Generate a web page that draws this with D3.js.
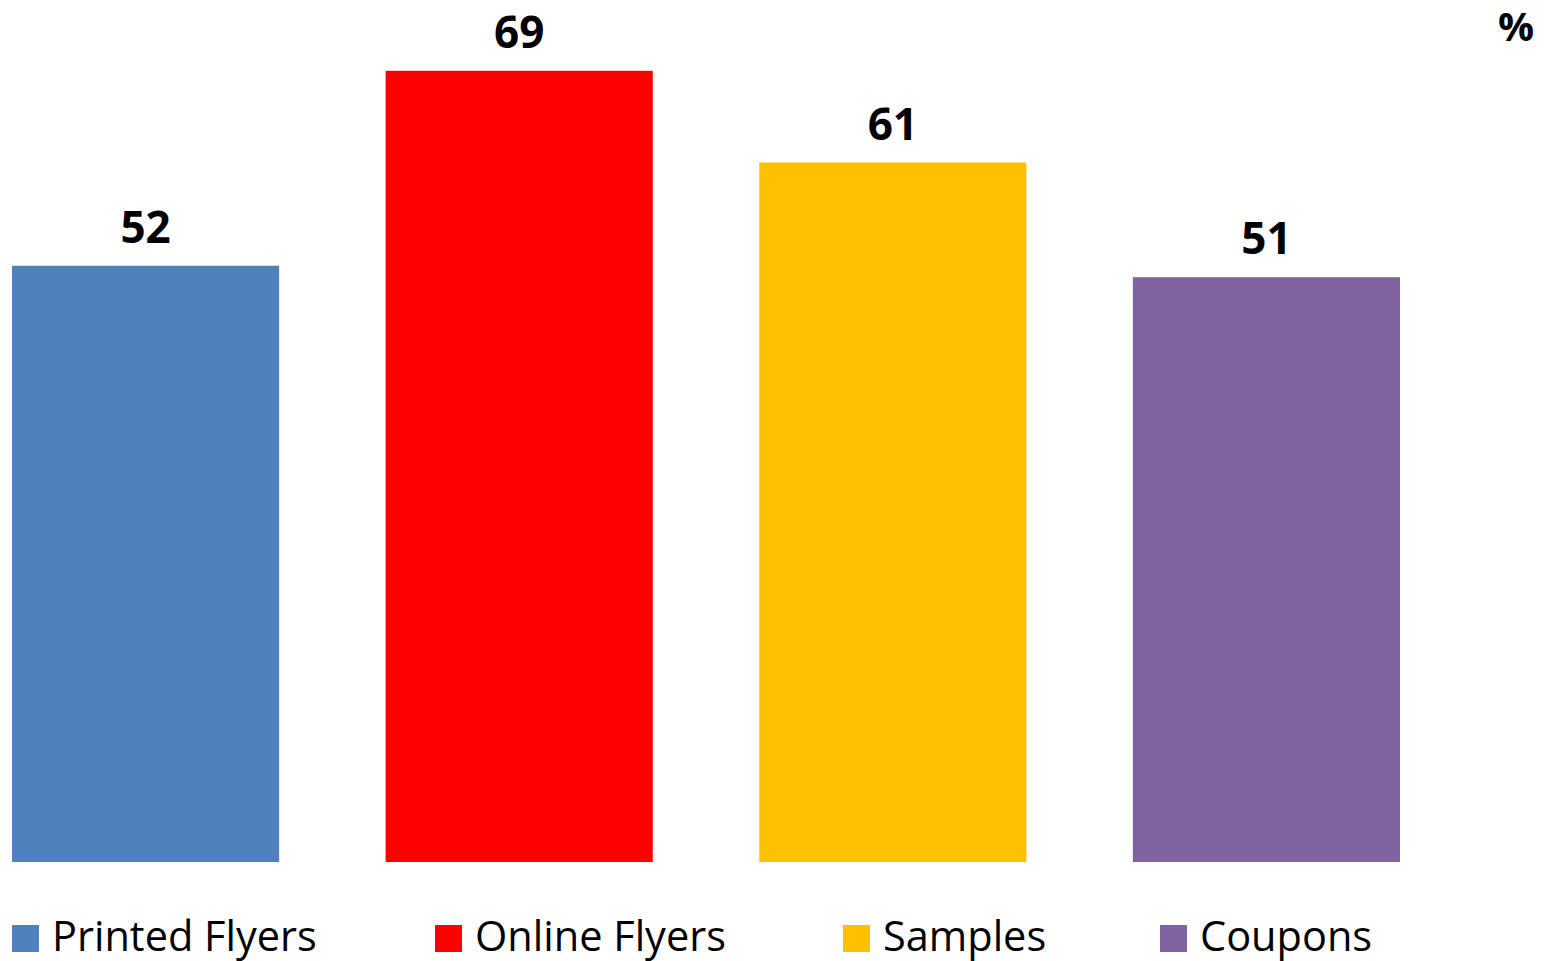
<!DOCTYPE html>
<html>
<head>
<meta charset="utf-8">
<script src="https://cdn.jsdelivr.net/npm/d3@7"></script>
<style>
  html, body { margin: 0; padding: 0; background: #fff; }
  svg { display: block; }
  text { font-family: "Open Sans", "DejaVu Sans", sans-serif; fill: #000; }
</style>
</head>
<body>
<svg id="chart" width="1544" height="961"></svg>
<script>
// Share of respondents by promotion type (%)
const categories = ["Printed Flyers", "Online Flyers", "Samples", "Coupons"];
const values = [52, 69, 61, 51];
const colors = ["#4F81BD", "#FF0000", "#FFC000", "#8064A2"];
const unitLabel = "%";

const svg = d3.select("#chart");

const x = d3.scaleBand()
  .domain(categories)
  .range([12, 1400])
  .paddingInner(0.285)
  .paddingOuter(0);

const y = d3.scaleLinear()
  .domain([0, 75])
  .range([862, 2]);

// bars
svg.append("g").selectAll("rect")
  .data(values)
  .join("rect")
  .attr("x", (d, i) => x(categories[i]))
  .attr("y", d => y(d))
  .attr("width", x.bandwidth())
  .attr("height", d => y(0) - y(d))
  .attr("fill", (d, i) => colors[i]);

// value labels above each bar
svg.append("g").selectAll("text")
  .data(values)
  .join("text")
  .attr("x", (d, i) => x(categories[i]) + x.bandwidth() / 2)
  .attr("y", d => y(d) - 23)
  .attr("text-anchor", "middle")
  .attr("font-size", 44)
  .attr("font-weight", "bold")
  .text(d => d);

// unit label
svg.append("text")
  .attr("x", 1516)
  .attr("y", 41)
  .attr("text-anchor", "middle")
  .attr("font-size", 40)
  .attr("font-weight", "bold")
  .text(unitLabel);

// legend
const legendX = [12, 435, 843, 1160];
const legend = svg.append("g").selectAll("g")
  .data(categories)
  .join("g")
  .attr("transform", (d, i) => `translate(${legendX[i]},0)`);

legend.append("rect")
  .attr("x", 0)
  .attr("y", 925)
  .attr("width", 27)
  .attr("height", 27)
  .attr("fill", (d, i) => colors[i]);

legend.append("text")
  .attr("x", 40)
  .attr("y", 951)
  .attr("font-size", 41.5)
  .text(d => d);
</script>
</body>
</html>
